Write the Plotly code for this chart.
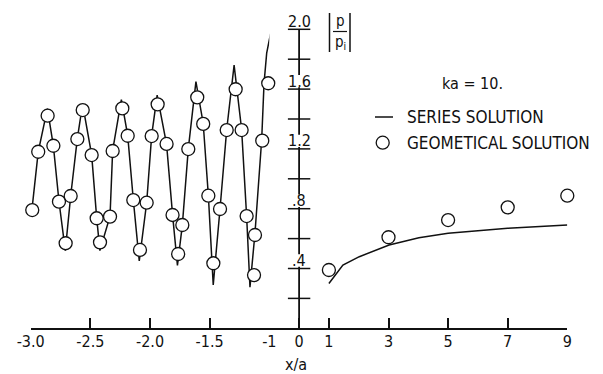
import plotly.graph_objects as go

# ---------------- data ----------------
# Left region (x/a from -3 to -1): series solution curve
series_left_x = [-2.99, -2.937, -2.86, -2.81, -2.763, -2.71, -2.665, -2.609, -2.565, -2.489,
                 -2.447, -2.42, -2.335, -2.313, -2.24, -2.187, -2.14, -2.09, -2.028, -1.986,
                 -1.94, -1.861, -1.811, -1.77, -1.729, -1.679, -1.615, -1.554, -1.511, -1.47,
                 -1.413, -1.357, -1.295, -1.232, -1.19, -1.162, -1.12, -1.092, -1.064, -1.044,
                 -1.022, -0.99]
series_left_y = [0.79, 1.18, 1.47, 1.22, 0.85, 0.52, 0.885, 1.27, 1.50, 1.16,
                 0.74, 0.52, 0.75, 1.19, 1.53, 1.29, 0.86, 0.45, 0.84, 1.29,
                 1.56, 1.23, 0.76, 0.42, 0.69, 1.20, 1.65, 1.37, 0.89, 0.29,
                 0.80, 1.33, 1.76, 1.33, 0.75, 0.275, 0.636, 0.947, 1.26, 1.64,
                 1.84, 1.97]

# Left region: geometrical solution points
geom_left_x = [-2.987, -2.937, -2.858, -2.81, -2.763, -2.707, -2.665, -2.609, -2.564, -2.489,
               -2.447, -2.419, -2.335, -2.313, -2.232, -2.187, -2.14, -2.084, -2.028, -1.986,
               -1.936, -1.861, -1.811, -1.764, -1.729, -1.679, -1.604, -1.554, -1.511, -1.469,
               -1.413, -1.357, -1.282, -1.232, -1.19, -1.128, -1.12, -1.059, -1.009]
geom_left_y = [0.791, 1.181, 1.422, 1.221, 0.847, 0.569, 0.885, 1.266, 1.460, 1.159,
               0.736, 0.575, 0.747, 1.186, 1.471, 1.288, 0.858, 0.524, 0.840, 1.286,
               1.498, 1.233, 0.758, 0.497, 0.691, 1.199, 1.545, 1.367, 0.887, 0.435,
               0.798, 1.326, 1.599, 1.326, 0.751, 0.356, 0.624, 1.255, 1.639]

# Right region (x/a from 1 to 9)
series_right_x = [1.0, 1.47, 2.02, 3.02, 4.02, 5.0, 7.0, 9.0]
series_right_y = [0.30, 0.423, 0.479, 0.557, 0.606, 0.635, 0.669, 0.691]

geom_right_x = [1, 3, 5, 7, 9]
geom_right_y = [0.39, 0.609, 0.724, 0.809, 0.887]

left_ticks = [-3.0, -2.5, -2.0, -1.5, -1.0]
left_ticktext = ["-3.0", "-2.5", "-2.0", "-1.5", "-1"]
right_ticks = [0, 1, 3, 5, 7, 9]
right_ticktext = ["0", "1", "3", "5", "7", "9"]

y_minor = [0.2, 0.4, 0.6, 0.8, 1.0, 1.2, 1.4, 1.6, 1.8, 2.0]
y_labels_val = [2.0, 1.6, 1.2, 0.8, 0.4]
y_labels_txt = ["2.0", "1.6", "1.2", ".8", ".4"]

FONT = "DejaVu Sans Condensed, Liberation Sans Narrow, Roboto Condensed, DejaVu Sans, sans-serif"
INK = "#111111"
W, H = 603, 374
OFF = 8  # page body margin offset


def px(xp):
    return (xp - OFF) / W


def py(yp):
    return 1 - (yp - OFF) / H


fig = go.Figure()

line_style = dict(color=INK, width=1.5)
marker_style = dict(symbol="circle", size=13, color="white", line=dict(color=INK, width=1.3))

fig.add_trace(go.Scatter(x=series_left_x, y=series_left_y, mode="lines", line=line_style,
                         xaxis="x", yaxis="y", cliponaxis=False, showlegend=False))
fig.add_trace(go.Scatter(x=geom_left_x, y=geom_left_y, mode="markers", marker=marker_style,
                         xaxis="x", yaxis="y", cliponaxis=False, showlegend=False))
fig.add_trace(go.Scatter(x=series_right_x, y=series_right_y, mode="lines", line=line_style,
                         xaxis="x2", yaxis="y", cliponaxis=False, showlegend=False))
fig.add_trace(go.Scatter(x=geom_right_x, y=geom_right_y, mode="markers", marker=marker_style,
                         xaxis="x2", yaxis="y", cliponaxis=False, showlegend=False))

# vertical y-axis at x/a = 0, interrupted where the value labels sit
label_gap_lo, label_gap_hi = 0.012, 0.095
axis_seg_y = [0.0]
for v in sorted(y_labels_val):
    if v < 2.0:
        axis_seg_y += [v + label_gap_lo, None, v + label_gap_hi]
axis_seg_y += [2.0]
axis_seg_x = [None if yy is None else 0 for yy in axis_seg_y]
fig.add_trace(go.Scatter(x=axis_seg_x, y=axis_seg_y, mode="lines",
                         line=dict(color=INK, width=1.8), connectgaps=False,
                         xaxis="x2", yaxis="y", cliponaxis=False, showlegend=False,
                         hoverinfo="skip"))
fig.add_trace(go.Scatter(x=[0] * len(y_minor), y=y_minor, mode="markers",
                         marker=dict(symbol="line-ew", size=16, line=dict(color=INK, width=1.5)),
                         xaxis="x2", yaxis="y", cliponaxis=False, showlegend=False,
                         hoverinfo="skip"))

annotations = []
for v, t in zip(y_labels_val, y_labels_txt):
    annotations.append(dict(x=0, y=v, xref="x2", yref="y", text=t, showarrow=False,
                            xanchor="center", yanchor="middle", yshift=8,
                            font=dict(family=FONT, size=16, color=INK)))

# |p / p_i| label
annotations.append(dict(x=px(340), y=py(21), xref="paper", yref="paper", text="p",
                        showarrow=False, yanchor="middle",
                        font=dict(family=FONT, size=15, color=INK)))
annotations.append(dict(x=px(340), y=py(42), xref="paper", yref="paper", text="p<sub>i</sub>",
                        showarrow=False, yanchor="middle",
                        font=dict(family=FONT, size=15, color=INK)))

# x/a title
annotations.append(dict(x=px(296), y=py(364), xref="paper", yref="paper", text="x/a",
                        showarrow=False, yanchor="middle",
                        font=dict(family=FONT, size=16, color=INK)))

# legend-like text
annotations.append(dict(x=px(440), y=py(83), xref="paper", yref="paper", text="ka = 10.",
                        showarrow=False, xanchor="left", yanchor="middle",
                        font=dict(family=FONT, size=16, color=INK)))
annotations.append(dict(x=px(405), y=py(117), xref="paper", yref="paper", text="SERIES SOLUTION",
                        showarrow=False, xanchor="left", yanchor="middle",
                        font=dict(family=FONT, size=17, color=INK)))
annotations.append(dict(x=px(405), y=py(142.5), xref="paper", yref="paper",
                        text="GEOMETICAL SOLUTION", showarrow=False, xanchor="left",
                        yanchor="middle",
                        font=dict(family=FONT, size=17, color=INK)))

shapes = [
    # |p/p_i| bars and fraction line
    dict(type="line", xref="paper", yref="paper", x0=px(329.5), x1=px(329.5), y0=py(13), y1=py(52),
         line=dict(color=INK, width=1.5)),
    dict(type="line", xref="paper", yref="paper", x0=px(350), x1=px(350), y0=py(13), y1=py(52),
         line=dict(color=INK, width=1.5)),
    dict(type="line", xref="paper", yref="paper", x0=px(333), x1=px(347), y0=py(31.5), y1=py(31.5),
         line=dict(color=INK, width=1.2)),
    # legend samples
    dict(type="line", xref="paper", yref="paper", x0=px(375), x1=px(393), y0=py(117), y1=py(117),
         line=dict(color=INK, width=1.5)),
    dict(type="circle", xref="paper", yref="paper", x0=px(376.2), x1=px(389.2),
         y0=py(149.2), y1=py(136.2), line=dict(color=INK, width=1.3), fillcolor="white"),
]

x_left_dom = [px(30.7), px(269.3)]
x_right_dom = [px(269.3), px(567.3)]
y_dom = [py(328.3), py(29.3)]

axis_common = dict(showline=True, linecolor=INK, linewidth=1.8, ticks="inside", ticklen=10,
                   tickwidth=1.5, tickcolor=INK, showgrid=False, zeroline=False,
                   automargin=False, ticklabelstandoff=-2,
                   tickfont=dict(family=FONT, size=16, color=INK), anchor="y", fixedrange=True)

fig.update_layout(
    width=W, height=H,
    margin=dict(l=0, r=0, t=0, b=0, pad=0, autoexpand=False),
    paper_bgcolor="white", plot_bgcolor="white",
    showlegend=False,
    xaxis=dict(domain=x_left_dom, range=[-3.0, -1.0], tickvals=left_ticks,
               ticktext=left_ticktext, **axis_common),
    xaxis2=dict(domain=x_right_dom, range=[-1.0, 9.0], tickvals=right_ticks,
                ticktext=right_ticktext, **axis_common),
    yaxis=dict(domain=y_dom, range=[0, 2.0], visible=False, fixedrange=True, automargin=False),
    annotations=annotations,
    shapes=shapes,
)

fig.write_html("out.html")
